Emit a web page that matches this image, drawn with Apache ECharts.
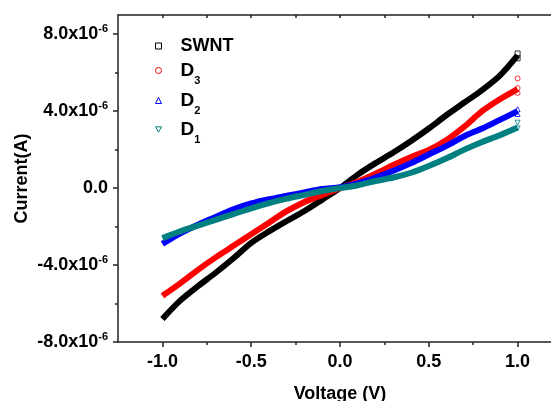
<!DOCTYPE html>
<html>
<head>
<meta charset="utf-8">
<script src="https://cdn.jsdelivr.net/npm/echarts@6/dist/echarts.min.js"></script>
<style>html,body{margin:0;padding:0;background:#fff;}#c{width:551px;height:401px;}</style>
</head>
<body>
<div id="c"></div>
<script>
// Voltage (V)
const voltage = [-1.0,-0.9,-0.8,-0.7,-0.6,-0.5,-0.4,-0.3,-0.2,-0.1,0.0,0.1,0.2,0.3,0.4,0.5,0.6,0.7,0.8,0.9,1.0];
// Current in units of 1e-6 A
const swnt = [-6.8,-5.85,-5.1,-4.4,-3.65,-2.85,-2.25,-1.71,-1.19,-0.6,0.0,0.7,1.3,1.85,2.45,3.1,3.8,4.45,5.1,5.85,6.9];
const d3   = [-5.6,-4.95,-4.25,-3.6,-3.0,-2.4,-1.8,-1.2,-0.72,-0.35,0.0,0.33,0.75,1.2,1.62,1.98,2.5,3.2,4.0,4.62,5.15];
const d2   = [-2.9,-2.35,-1.9,-1.5,-1.1,-0.8,-0.58,-0.4,-0.22,-0.05,0.05,0.25,0.55,0.9,1.3,1.75,2.2,2.7,3.1,3.55,4.0];
const d1   = [-2.6,-2.25,-1.95,-1.65,-1.35,-1.05,-0.78,-0.55,-0.35,-0.15,0.0,0.15,0.37,0.55,0.8,1.15,1.55,2.0,2.4,2.75,3.15];
// stacked markers at the last voltage point
const endVoltage = 1.0;
const swntEnd = [7.0, 6.75];
const d3End = [5.7, 5.2, 4.95];
const d2End = [4.1, 3.85];
const d1End = [3.4, 3.1];
// axis ticks
const xMajorTicks = [-1.0,-0.5,0.0,0.5,1.0];
const xMinorTicks = [-0.75,-0.25,0.25,0.75];
const xTopTicks = [-1.0,-0.75,-0.5,-0.25,0.0,0.25,0.5,0.75,1.0];
const yMajorTicks = [-8,-4,0,4,8];
const yMinorTicks = [-6,-2,2,6];
const seriesNames = ['SWNT','D3','D2','D1'];
const colors = ['#000000','#ff0000','#0000ff','#008080'];
const icons = ['rect','circle','triangle','path://M0,0L10,0L5,9Z'];

const FONT = 'Liberation Sans, Arial, sans-serif';
const pairs = (ys) => voltage.map((v,i)=>[v, ys[i]]);
const ends = (ys) => ys.map(y=>[endVoltage, y]);

const chart = echarts.init(document.getElementById('c'), null, {renderer:'canvas'});
const axisLineStyle = {color:'#222', width:1.5};
const xBase = {type:'value', min:-1.25, max:1.25, splitLine:{show:false}};
const yBase = {type:'value', min:-8, max:9, splitLine:{show:false}};

const legendTops = [37, 61, 91, 120];
const legendRich = {
  m:{fontSize:18, fontWeight:'bold', fontFamily:FONT, color:'#000', lineHeight:20, verticalAlign:'middle'},
  d:{fontSize:19, fontWeight:'bold', fontFamily:FONT, color:'#000', lineHeight:32, verticalAlign:'middle'},
  s:{fontSize:11, fontWeight:'bold', fontFamily:FONT, color:'#000', lineHeight:11, verticalAlign:'bottom'}
};
const legends = seriesNames.map((n,i)=>({
  left:155, top:legendTops[i], padding:0, itemWidth:6, itemHeight:6, selectedMode:false,
  data:[{name:n, icon:icons[i], itemStyle:{color:'rgba(255,255,255,0)', borderColor:colors[i], borderWidth:1}}],
  formatter:(name)=> name === 'SWNT' ? '{m|SWNT}' : '{d|D}{s|' + name.slice(1) + '}',
  textStyle:{padding:[0,0,0,14], rich:legendRich}
}));

const series = [];
seriesNames.forEach((n,i)=>{
  const ys = [swnt,d3,d2,d1][i];
  series.push({name:n, type:'line', data:pairs(ys), symbol:'none', smooth:0.3,
    lineStyle:{color:colors[i], width:6}, itemStyle:{color:colors[i]}, z:2+i});
});
seriesNames.forEach((n,i)=>{
  const ys = [swntEnd,d3End,d2End,d1End][i];
  series.push({name:n, type:'scatter', data:ends(ys), symbol:icons[i], symbolSize:5,
    itemStyle:{color:'rgba(255,255,255,0)', borderColor:colors[i], borderWidth:1}, z:10});
});

chart.setOption({
  animation:false,
  grid:{left:118, top:15, width:444, height:327, outerBoundsMode:'none', containLabel:false},
  legend: legends,
  xAxis:[
    Object.assign({}, xBase, {position:'bottom',
      name:'Voltage (V)', nameLocation:'middle', nameGap:43, nameMoveOverlap:false,
      nameTextStyle:{fontSize:18, fontWeight:'bold', fontFamily:FONT, color:'#000'},
      axisLine:{show:true, onZero:false, lineStyle:axisLineStyle},
      axisTick:{show:true, inside:false, length:5, customValues:xMajorTicks, lineStyle:axisLineStyle},
      axisLabel:{show:true, margin:11, customValues:xMajorTicks, fontSize:18, fontWeight:'bold', fontFamily:FONT, color:'#000',
        formatter:(v)=>v.toFixed(1)}}),
    Object.assign({}, xBase, {position:'bottom',
      axisLine:{show:false, onZero:false},
      axisTick:{show:true, inside:false, length:3, customValues:xMinorTicks, lineStyle:axisLineStyle},
      axisLabel:{show:false}}),
    Object.assign({}, xBase, {position:'top',
      axisLine:{show:true, onZero:false, lineStyle:axisLineStyle},
      axisTick:{show:true, inside:true, length:3, customValues:xTopTicks, lineStyle:axisLineStyle},
      axisLabel:{show:false}})
  ],
  yAxis:[
    Object.assign({}, yBase, {position:'left',
      name:'Current(A)', nameLocation:'middle', nameGap:87, nameRotate:90, nameMoveOverlap:false,
      nameTextStyle:{fontSize:18, fontWeight:'bold', fontFamily:FONT, color:'#000'},
      axisLine:{show:true, onZero:false, lineStyle:axisLineStyle},
      axisTick:{show:true, inside:false, length:5, customValues:yMajorTicks, lineStyle:axisLineStyle},
      axisLabel:{show:true, margin:10, customValues:yMajorTicks,
        formatter:(v)=> v === 0 ? '{m|0.0}' : '{m|' + v.toFixed(1) + 'x10}{s|-6}',
        rich:{
          m:{fontSize:18, fontWeight:'bold', fontFamily:FONT, color:'#000', lineHeight:22, verticalAlign:'middle'},
          s:{fontSize:11, fontWeight:'bold', fontFamily:FONT, color:'#000', lineHeight:10, verticalAlign:'top'}
        }}}),
    Object.assign({}, yBase, {position:'left',
      axisLine:{show:false, onZero:false},
      axisTick:{show:true, inside:false, length:3, customValues:yMinorTicks, lineStyle:axisLineStyle},
      axisLabel:{show:false}})
  ],
  series: series
});
</script>
</body>
</html>
